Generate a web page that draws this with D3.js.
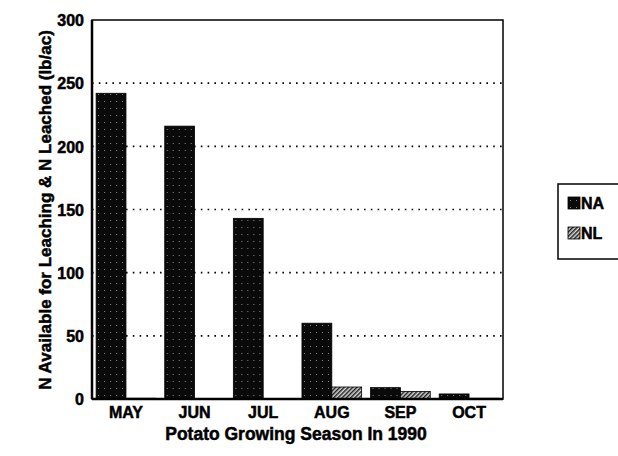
<!DOCTYPE html>
<html>
<head>
<meta charset="utf-8">
<script src="https://cdn.jsdelivr.net/npm/d3@7"></script>
<style>
  body { margin: 0; background: #fff; }
  svg { display: block; }
  text { font-family: "Liberation Sans", Arial, sans-serif; font-weight: bold; fill: #000;
         stroke: #000; stroke-width: 0.5px; }
</style>
</head>
<body>
<div id="chart"></div>
<script>
// data
var months = ["MAY", "JUN", "JUL", "AUG", "SEP", "OCT"];
var seriesNames = ["NA", "NL"];
var naValues = [242, 216, 143, 60, 9, 4];
var nlValues = [0.6, 0.4, 0.4, 9.5, 6, 0.6];
var yTicks = [0, 50, 100, 150, 200, 250, 300];
var gridTicks = [50, 100, 150, 200, 250];

var width = 618, height = 456;
var plot = { left: 92, top: 20, right: 503, bottom: 399 };

var svg = d3.select("#chart").append("svg")
    .attr("width", width)
    .attr("height", height);

var defs = svg.append("defs");
// NA: near black with faint dots
var pNA = defs.append("pattern").attr("id", "patNA")
    .attr("patternUnits", "userSpaceOnUse").attr("width", 6).attr("height", 7);
pNA.append("rect").attr("width", 6).attr("height", 7).attr("fill", "#0a0a0a");
pNA.append("rect").attr("x", 2).attr("y", 3).attr("width", 1).attr("height", 1).attr("fill", "#8a8a8a");
// NL: diagonal hatching
var pNL = defs.append("pattern").attr("id", "patNL")
    .attr("patternUnits", "userSpaceOnUse").attr("width", 3).attr("height", 3)
    .attr("patternTransform", "rotate(45)");
pNL.append("rect").attr("width", 3).attr("height", 3).attr("fill", "#d8d8d8");
pNL.append("rect").attr("width", 1.5).attr("height", 3).attr("fill", "#222");

var x0 = d3.scaleBand().domain(months)
    .range([plot.left, plot.right])
    .paddingInner(0.13).paddingOuter(0.06);
var x1 = d3.scaleBand().domain(seriesNames)
    .range([0, x0.bandwidth()]);
var y = d3.scaleLinear().domain([0, 300]).range([plot.bottom, plot.top]);

// dotted gridlines
svg.append("g").selectAll("line").data(gridTicks).join("line")
    .attr("x1", plot.left).attr("x2", plot.right)
    .attr("y1", d => y(d)).attr("y2", d => y(d))
    .attr("stroke", "#000").attr("stroke-width", 1.6)
    .attr("stroke-dasharray", "1.6,5.2");

// bars
var rows = months.map((m, i) => ({ month: m, NA: naValues[i], NL: nlValues[i] }));
var groups = svg.append("g").selectAll("g").data(rows).join("g")
    .attr("transform", d => "translate(" + x0(d.month) + ",0)");
groups.selectAll("rect")
    .data(d => seriesNames.map(k => ({ key: k, value: d[k] })))
    .join("rect")
    .attr("x", d => x1(d.key))
    .attr("width", x1.bandwidth())
    .attr("y", d => y(d.value))
    .attr("height", d => y(0) - y(d.value))
    .attr("fill", d => d.key == "NA" ? "url(#patNA)" : "url(#patNL)")
    .attr("stroke", "#000").attr("stroke-width", 0.8);

// frame
svg.append("rect")
    .attr("x", plot.left).attr("y", plot.top)
    .attr("width", plot.right - plot.left).attr("height", plot.bottom - plot.top)
    .attr("fill", "none").attr("stroke", "#000").attr("stroke-width", 1.5);
svg.append("line").attr("x1", plot.left).attr("x2", plot.left)
    .attr("y1", plot.top).attr("y2", plot.bottom)
    .attr("stroke", "#000").attr("stroke-width", 2.5);
svg.append("line").attr("x1", plot.left).attr("x2", plot.right)
    .attr("y1", plot.bottom).attr("y2", plot.bottom)
    .attr("stroke", "#000").attr("stroke-width", 2.5);

// y axis
var yAxis = svg.append("g")
    .attr("transform", "translate(" + plot.left + ",0)")
    .call(d3.axisLeft(y).tickValues(yTicks).tickSize(0).tickPadding(8));
yAxis.select(".domain").remove();
yAxis.selectAll("text")
    .style("font-size", "16px").style("font-family", "'Liberation Sans', Arial, sans-serif")
    .style("font-weight", "bold").attr("dy", "0.36em");

// x axis
var xAxis = svg.append("g")
    .attr("transform", "translate(0," + plot.bottom + ")")
    .call(d3.axisBottom(x0).tickSize(0).tickPadding(8));
xAxis.select(".domain").remove();
xAxis.selectAll("text")
    .style("font-size", "16px").style("font-family", "'Liberation Sans', Arial, sans-serif")
    .style("font-weight", "bold");

// titles
svg.append("text")
    .attr("x", 296).attr("y", 440)
    .attr("text-anchor", "middle")
    .style("font-size", "17.5px")
    .text("Potato Growing Season In 1990");
svg.append("text")
    .attr("transform", "translate(51,210) rotate(-90)")
    .attr("text-anchor", "middle")
    .style("font-size", "17px")
    .text("N Available for Leaching & N Leached (lb/ac)");

// legend
var legend = svg.append("g").attr("transform", "translate(558,184)");
legend.append("rect").attr("width", 62).attr("height", 75)
    .attr("fill", "#fff").attr("stroke", "#000").attr("stroke-width", 1.5);
var li = legend.selectAll("g.item").data(seriesNames).join("g")
    .attr("class", "item")
    .attr("transform", (d, i) => "translate(10," + (13 + i * 30) + ")");
li.append("rect").attr("width", 12).attr("height", 12)
    .attr("fill", d => d == "NA" ? "url(#patNA)" : "url(#patNL)")
    .attr("stroke", "#000").attr("stroke-width", 0.8);
li.append("text").attr("x", 13).attr("y", 12)
    .style("font-size", "16px")
    .text(d => d);
</script>
</body>
</html>
